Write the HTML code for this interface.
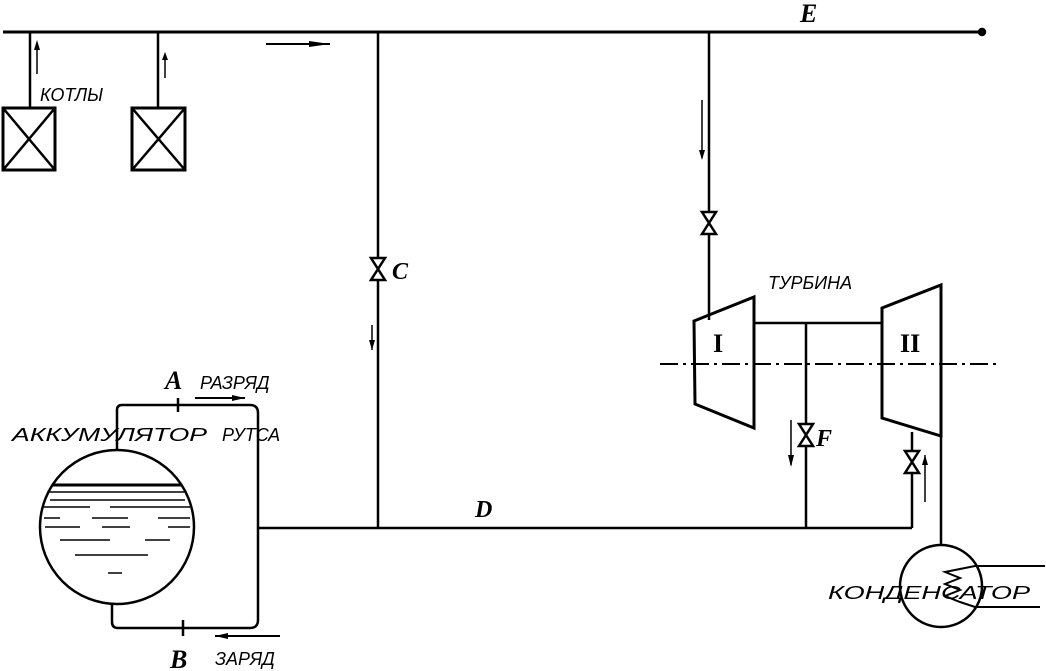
<!DOCTYPE html>
<html><head><style>html,body{margin:0;padding:0;background:#fff}svg{display:block}
text{font-family:"Liberation Sans",sans-serif;font-style:italic;fill:#000}
.s{font-family:"Liberation Serif",serif;font-weight:bold;font-style:italic}</style></head>
<body>
<svg width="1046" height="671" viewBox="0 0 1046 671" xmlns="http://www.w3.org/2000/svg">
<defs><clipPath id="cc"><circle cx="117" cy="527" r="76"/></clipPath></defs>
<g stroke="#000" stroke-width="2.5" fill="none">
<line x1="3" y1="32" x2="982" y2="32" stroke-width="3"/>
<circle cx="982" cy="32" r="3" fill="#000"/>
<line x1="266" y1="44" x2="330" y2="44" stroke-width="2"/>
<line x1="30" y1="32" x2="30" y2="108"/>
<line x1="158" y1="32" x2="158" y2="108"/>
<line x1="37" y1="48" x2="37" y2="74" stroke-width="1.5"/>
<line x1="165" y1="58" x2="165" y2="78" stroke-width="1.5"/>
<rect x="3" y="108" width="52" height="62" stroke-width="3"/>
<line x1="3" y1="108" x2="55" y2="170"/><line x1="55" y1="108" x2="3" y2="170"/>
<rect x="132" y="108" width="53" height="62" stroke-width="3"/>
<line x1="132" y1="108" x2="185" y2="170"/><line x1="185" y1="108" x2="132" y2="170"/>
<line x1="378" y1="32" x2="378" y2="528"/>
<line x1="372" y1="325" x2="372" y2="350" stroke-width="1.5"/>
<line x1="709" y1="32" x2="709" y2="320"/>
<line x1="702" y1="100" x2="702" y2="158" stroke-width="1.5"/>
<line x1="258" y1="528" x2="912" y2="528"/>
<polygon points="694,321 754,297 754,428 695,404" stroke-width="3"/>
<polygon points="882,308 941,285 941,436 882,418" stroke-width="3"/>
<line x1="754" y1="323" x2="882" y2="323"/>
<line x1="660" y1="364" x2="1000" y2="364" stroke-width="2" stroke-dasharray="18,5,3,5"/>
<line x1="806" y1="323" x2="806" y2="528"/>
<line x1="791" y1="420" x2="791" y2="465" stroke-width="1.5"/>
<line x1="912" y1="432" x2="912" y2="528"/>
<line x1="925" y1="455" x2="925" y2="502" stroke-width="1.5"/>
<line x1="941" y1="436" x2="941" y2="546"/>
<circle cx="941" cy="586" r="41"/>
<path d="M1045,566 H975 L945,572 L960,578 L945,584 L960,590 L945,596 L960,602 L975,607 H1040" stroke-width="2"/>
<circle cx="117" cy="527" r="77"/>
<g clip-path="url(#cc)">
<line x1="30" y1="485" x2="200" y2="485" stroke-width="3"/>
<g stroke-width="1.5">
<line x1="45" y1="492" x2="190" y2="492"/><line x1="50" y1="500" x2="185" y2="500"/>
<line x1="42" y1="507" x2="90" y2="507"/><line x1="110" y1="507" x2="190" y2="507"/>
<line x1="44" y1="518" x2="60" y2="518"/><line x1="92" y1="518" x2="128" y2="518"/><line x1="158" y1="518" x2="190" y2="518"/>
<line x1="45" y1="527" x2="80" y2="527"/><line x1="102" y1="527" x2="130" y2="527"/><line x1="168" y1="527" x2="190" y2="527"/>
<line x1="60" y1="540" x2="110" y2="540"/><line x1="145" y1="540" x2="170" y2="540"/>
<line x1="75" y1="555" x2="148" y2="555"/><line x1="108" y1="573" x2="122" y2="573"/>
</g></g>
<path d="M117,450 V410 Q117,405 122,405 H250 Q258,405 258,413 V620 Q258,628 250,628 H118 Q112,628 112,622 V603"/>
<line x1="178" y1="398" x2="178" y2="412"/>
<line x1="183" y1="620" x2="183" y2="636"/>
<line x1="195" y1="398" x2="245" y2="398" stroke-width="2"/>
<line x1="215" y1="636" x2="280" y2="636" stroke-width="2"/>
</g>
<g fill="#fff" stroke="#000" stroke-width="2.5">
<polygon points="371,258 385,258 371,280 385,280"/>
<polygon points="702,212 716,212 702,234 716,234"/>
<polygon points="799,424 813,424 799,446 813,446"/>
<polygon points="905,451 919,451 905,473 919,473"/>
</g>
<g fill="#000">
<polygon points="309,41 330,44 309,47"/>
<polygon points="34,50 37,40 40,50"/><polygon points="162,60 165,52 168,60"/>
<polygon points="699,150 702,160 705,150"/>
<polygon points="369,340 372,350 375,340"/>
<polygon points="788,455 791,467 794,455"/>
<polygon points="922,465 925,455 928,465"/>
<polygon points="232,395 245,398 232,401"/>
<polygon points="228,633 215,636 228,639"/>
</g>
<g font-size="18">
<text x="40" y="101">КОТЛЫ</text>
<text x="768" y="289">ТУРБИНА</text>
<text x="12" y="441" textLength="195" lengthAdjust="spacingAndGlyphs">АККУМУЛЯТОР</text>
<text x="222" y="441">РУТСА</text>
<text x="200" y="389">РАЗРЯД</text>
<text x="215" y="665">ЗАРЯД</text>
<text x="828" y="599" textLength="202" lengthAdjust="spacingAndGlyphs">КОНДЕНСАТОР</text>
</g>
<text class="s" x="800" y="22" font-size="26">E</text>
<text class="s" x="392" y="279" font-size="24">C</text>
<text class="s" x="165" y="389" font-size="26">A</text>
<text class="s" x="170" y="668" font-size="26">B</text>
<text class="s" x="475" y="517" font-size="24">D</text>
<text class="s" x="816" y="446" font-size="24">F</text>
<text class="s" x="713" y="352" font-size="26" style="font-style:normal">I</text>
<text class="s" x="900" y="352" font-size="26" style="font-style:normal">II</text>
</svg>
</body></html>
